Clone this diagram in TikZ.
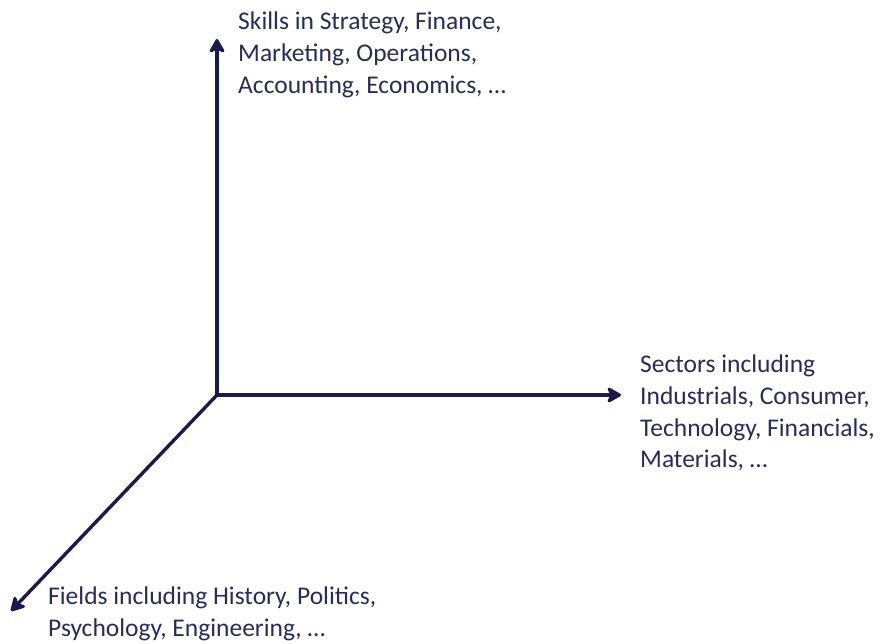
\documentclass[tikz,border=0pt]{standalone}
\usepackage{fontspec}
\setmainfont{Carlito}
\usetikzlibrary{arrows.meta}
\definecolor{axisnavy}{HTML}{1A1A4C}
\definecolor{labelnavy}{HTML}{2A2A5C}
\begin{document}
\begin{tikzpicture}[x=1pt,y=1pt,
  axis/.style={draw=axisnavy, line width=3.4pt,
    -{Stealth[length=17pt,width=19pt,inset=5pt,round]}},
  axislabel/.style={anchor=north west, align=left, inner sep=0pt,
    text=labelnavy, font=\fontsize{25.5}{31.6}\selectfont}]
  \useasboundingbox (0,0) rectangle (891,643);
  % axes meet at the origin
  \coordinate (O) at (217,248);
  \coordinate (up) at (217,604);
  \coordinate (right) at (621,248);
  \coordinate (downleft) at (11,32);
  \draw[axis] (O) -- (up);
  \draw[axis] (O) -- (right);
  \draw[axis] (O) -- (downleft);
  % axis captions
  \node[axislabel] (skills) at (238,631)
    {Skills in Strategy, Finance,\\Marketing, Operations,\\Accounting, Economics, \dots};
  \node[axislabel] (sectors) at (640,288)
    {Sectors including\\Industrials, Consumer,\\Technology, Financials,\\Materials, \dots};
  \node[axislabel] (fields) at (48,56)
    {Fields including History, Politics,\\Psychology, Engineering, \dots};
\end{tikzpicture}
\end{document}
